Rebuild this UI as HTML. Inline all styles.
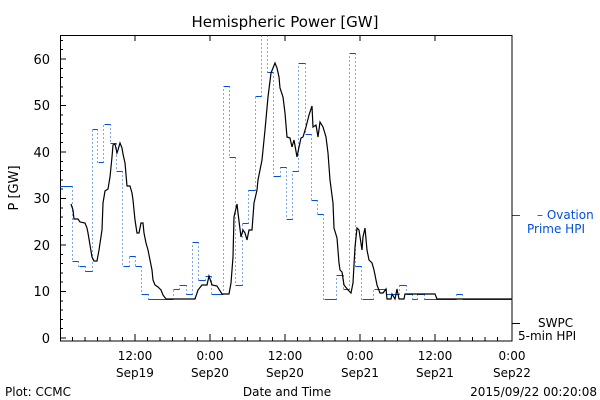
<!DOCTYPE html>
<html><head><meta charset="utf-8"><style>
html,body{margin:0;padding:0;background:#fff;}
svg{display:block;font-family:"DejaVu Sans","Liberation Sans",sans-serif;}
</style></head><body>
<svg width="600" height="400" viewBox="0 0 600 400" xmlns="http://www.w3.org/2000/svg">
<rect width="600" height="400" fill="#fff"/>
<text x="285" y="27" font-size="15" text-anchor="middle">Hemispheric Power [GW]</text>
<text transform="translate(18,188) rotate(-90)" font-size="13" text-anchor="middle">P [GW]</text>
<g font-size="13" text-anchor="end">
<text x="50" y="343">0</text><text x="50" y="296">10</text><text x="50" y="250">20</text>
<text x="50" y="203">30</text><text x="50" y="157">40</text><text x="50" y="110">50</text><text x="50" y="64">60</text>
</g>
<g font-size="12" text-anchor="middle">
<text x="135" y="360">12:00</text><text x="135" y="377">Sep19</text>
<text x="210" y="360">0:00</text><text x="210" y="377">Sep20</text>
<text x="285" y="360">12:00</text><text x="285" y="377">Sep20</text>
<text x="360" y="360">0:00</text><text x="360" y="377">Sep21</text>
<text x="435" y="360">12:00</text><text x="435" y="377">Sep21</text>
<text x="512" y="360">0:00</text><text x="512" y="377">Sep22</text>
</g>
<g font-size="12">
<text x="5" y="396">Plot: CCMC</text>
<text x="287" y="396" text-anchor="middle">Date and Time</text>
<text x="597" y="396" text-anchor="end">2015/09/22 00:20:08</text>
<text x="537" y="219" fill="#0050e0">– Ovation</text>
<text x="527" y="233" fill="#0050e0">Prime HPI</text>
<text x="538" y="327">SWPC</text>
<text x="518" y="340">5-min HPI</text>
</g>
<g shape-rendering="crispEdges">
<line x1="512" y1="215.5" x2="520" y2="215.5" stroke="#0050e0"/>
<line x1="512" y1="323.5" x2="520" y2="323.5" stroke="#000"/>
<g stroke="#000" stroke-width="1">
<rect x="60.5" y="35.5" width="451.5" height="305.5" fill="none"/>
<path d="M60,338h6M60,291.5h6M60,245h6M60,198.5h6M60,152h6M60,105.5h6M60,59h6
M60,328.7h3M60,319.4h3M60,310.1h3M60,300.8h3M60,282.2h3M60,272.9h3M60,263.6h3M60,254.3h3M60,235.7h3M60,226.4h3M60,217.1h3M60,207.8h3M60,189.2h3M60,179.9h3M60,170.6h3M60,161.3h3M60,142.7h3M60,133.4h3M60,124.1h3M60,114.8h3M60,96.2h3M60,86.9h3M60,77.6h3M60,68.3h3M60,49.7h3M60,40.4h3
M135,341v-7M210,341v-7M285,341v-7M360,341v-7M435,341v-7M135,35v6M210,35v6M285,35v6M360,35v6M435,35v6
M72.5,341v-4M85,341v-4M97.5,341v-4M110,341v-4M122.5,341v-4M147.5,341v-4M160,341v-4M172.5,341v-4M185,341v-4M197.5,341v-4M222.5,341v-4M235,341v-4M247.5,341v-4M260,341v-4M272.5,341v-4M297.5,341v-4M310,341v-4M322.5,341v-4M335,341v-4M347.5,341v-4M372.5,341v-4M385,341v-4M397.5,341v-4M410,341v-4M422.5,341v-4M447.5,341v-4M460,341v-4M472.5,341v-4M485,341v-4M497.5,341v-4"/>
</g>
<g stroke="#0050e0" stroke-width="1" fill="none" transform="translate(0.5,0.5)">
<path d="M60,186H72M72,261H78M79,266H85M85,271H92M92,129H97M98,162H103M104,124H110M110,143H116M116,171H122M123,266H129M129,256H135M135,266H141M141,294H148M148,299H173M173,289H179M179,285H186M186,294H192M192,242H198M198,280H205M205,276H211M211,294H223M223,86H229M229,157H235M235,285H242M242,223H248M248,190H255M255,96H261M267,72H273M273,176H280M280,167H286M286,219H292M292,171H298M298,63H305M305,134H311M311,200H317M317,214H323M324,299H336M336,275H343M343,289H349M349,53H355M355,266H361M362,299H373M374,289H386M386,294H393M393,294H399M399,285H406M406,294H412M412,299H417M417,294H424M424,299H456M456,294H462M462,299H512"/>
<path stroke-dasharray="1,3" d="M72,186V261M78,261V266M85,266V271M92,271V129M97,129V162M103,162V124M110,124V143M116,143V171M122,171V266M129,266V256M135,256V266M141,266V294M148,294V299M173,299V289M179,289V285M186,285V294M192,294V242M198,242V280M205,280V276M211,276V294M223,294V86M229,86V157M235,157V285M242,285V223M248,223V190M255,190V96M261,96V35M267,35V72M273,72V176M280,176V167M286,167V219M292,219V171M298,171V63M305,63V134M311,134V200M317,200V214M323,214V299M336,299V275M343,275V289M349,289V53M355,53V266M361,266V299M373,299V289M386,289V294M399,294V285M406,285V294M412,294V299M417,299V294M424,294V299M456,299V294M462,294V299"/>
</g>
</g>
<polyline fill="none" stroke="#000" stroke-width="1.2" points="71,204 73,210 74,219 78,219 80,222 85,223 87,228 88,233 90,245 92,257 94,261 97,261 99,250 102,230 103,203 105,191 108,189 110,177 112,157 113,145 115,144 117,153 118,150 120,143 122,148 123,154 125,163 127,186 130,186 132,193 133,200 135,220 137,233 139,233 141,223 143,223 144,233 146,243 148,250 150,260 152,270 153,280 155,285 158,287 161,290 163,295 166,299 195,299 198,290 202,285 207,285 209,276 212,285 217,286 222,294 229,294 231,283 233,257 234,217 237,204 238,213 241,237 243,230 245,233 247,240 249,230 252,230 254,203 257,190 258,180 262,160 265,130 268,97 271,73 273,68 275,63 277,68 279,77 280,88 283,97 285,113 287,137 290,138 292,147 294,140 297,157 299,147 301,138 303,137 306,127 309,115 312,106 313,127 316,125 318,137 320,122 323,127 326,137 328,153 330,180 333,203 334,228 337,238 339,263 340,270 342,272 344,285 348,290 351,293 353,283 355,247 357,228 359,230 362,250 363,237 365,228 367,250 369,260 372,263 374,270 376,280 377,285 380,293 383,293 386,289 387,299 391,299 392,294 395,299 397,289 399,299 404,299 405,294 435,294 437,299 512,299"/>
</svg>
</body></html>
